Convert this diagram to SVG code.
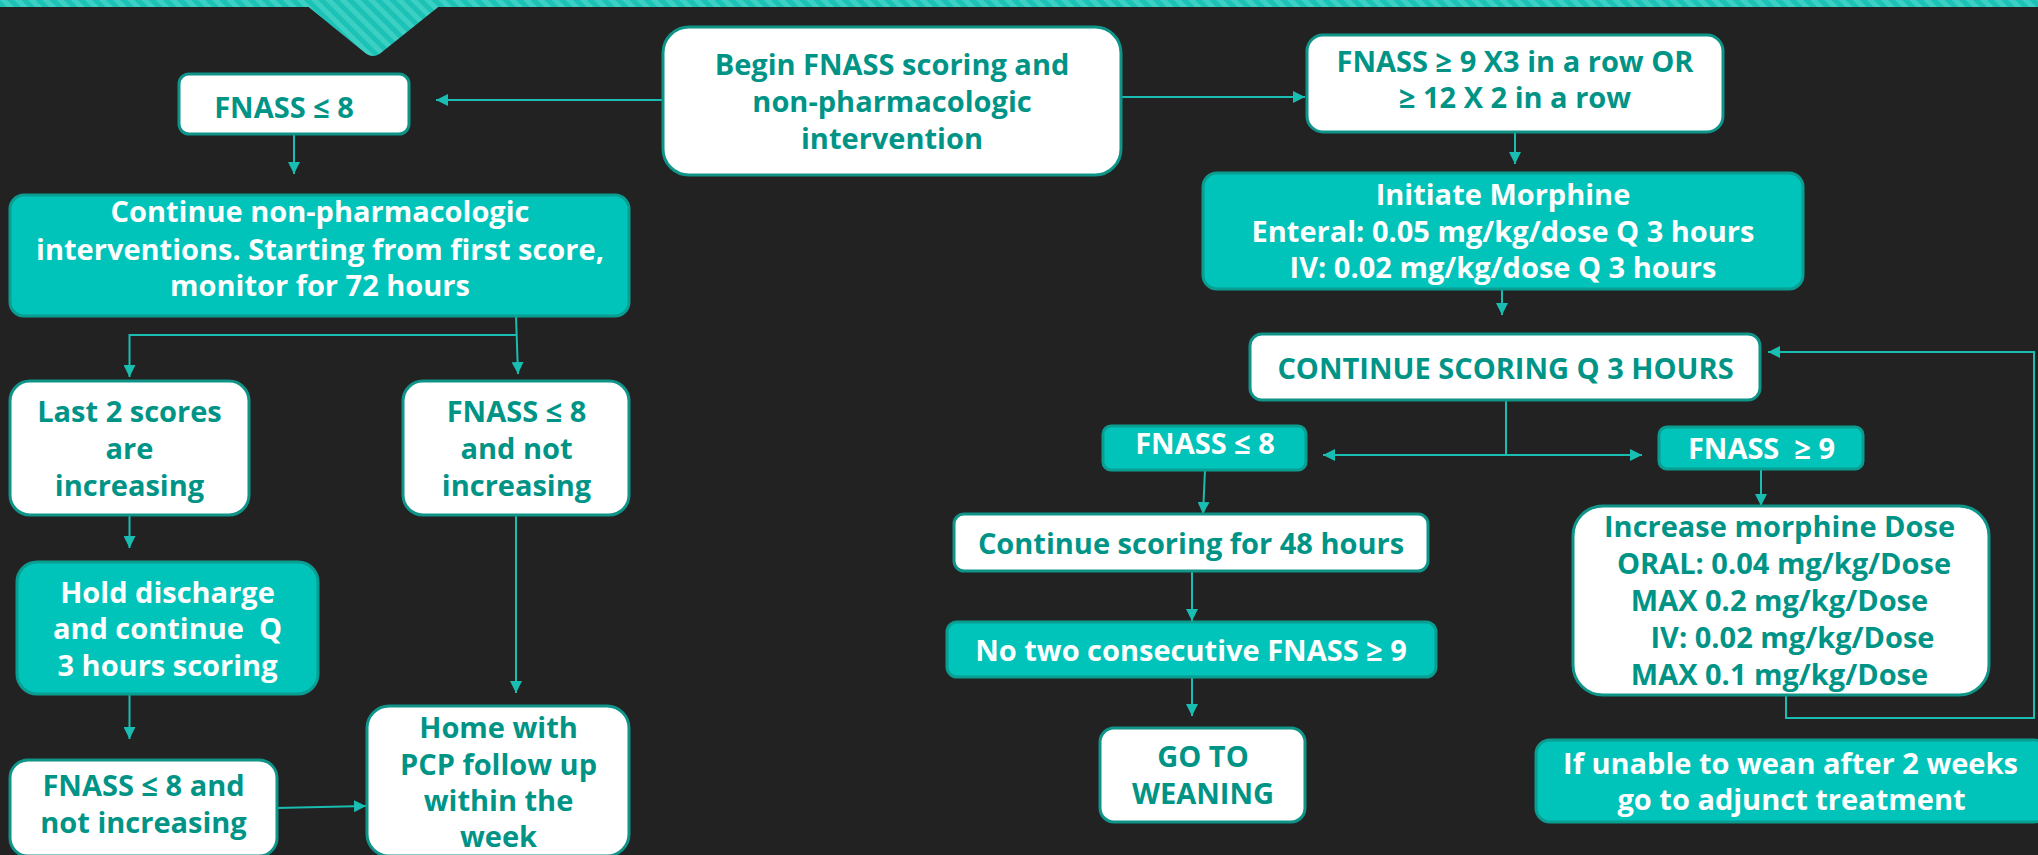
<svg xmlns="http://www.w3.org/2000/svg" width="2038" height="855" viewBox="0 0 2038 855">
<style>
.wb{fill:#ffffff;stroke:#0E9488;stroke-width:3}
.tb{fill:#00C4BA;stroke:#0A9E92;stroke-width:3}
text{font-family:"Open Sans","DejaVu Sans",sans-serif;font-weight:700;font-size:29px;text-anchor:middle}
.wt{fill:#009487}
.tt{fill:#ffffff}
.c{fill:none;stroke:#19BDB1;stroke-width:2}
</style>
<defs>
<pattern id="stripes" width="10" height="10" patternUnits="userSpaceOnUse" patternTransform="rotate(-45)">
<rect width="10" height="10" fill="#1CC2B5"/>
<rect width="5" height="10" fill="#3CCFC3"/>
</pattern>
<marker id="ah" viewBox="0 0 12 12" refX="12" refY="6" markerWidth="12" markerHeight="12" markerUnits="userSpaceOnUse" orient="auto-start-reverse">
<path d="M0,0 L12,6 L0,12 z" fill="#19BDB1"/>
</marker>
</defs>
<rect width="2038" height="855" fill="#222222"/>
<rect x="0" y="0" width="2038" height="7" fill="url(#stripes)"/>
<path d="M300,0 L447,0 L382,52 Q373,60 364,52 Z" fill="url(#stripes)"/>

<g id="connectors">
<line class="c" x1="663" y1="100" x2="436" y2="100" marker-end="url(#ah)"/>
<line class="c" x1="1122" y1="97" x2="1305" y2="97" marker-end="url(#ah)"/>
<line class="c" x1="294" y1="134" x2="294" y2="174" marker-end="url(#ah)"/>
<line class="c" x1="516" y1="316" x2="518" y2="374" marker-end="url(#ah)"/>
<polyline class="c" points="516,335 129.5,335 129.5,377" marker-end="url(#ah)"/>
<line class="c" x1="129.5" y1="515" x2="129.5" y2="548" marker-end="url(#ah)"/>
<line class="c" x1="129.5" y1="694" x2="129.5" y2="739" marker-end="url(#ah)"/>
<line class="c" x1="276" y1="808" x2="366" y2="806" marker-end="url(#ah)"/>
<line class="c" x1="516" y1="515" x2="516" y2="693" marker-end="url(#ah)"/>
<line class="c" x1="1515" y1="132" x2="1515" y2="164" marker-end="url(#ah)"/>
<line class="c" x1="1502" y1="289" x2="1502" y2="315" marker-end="url(#ah)"/>
<line class="c" x1="1506" y1="400" x2="1506" y2="455"/>
<line class="c" x1="1323" y1="455" x2="1642" y2="455" marker-start="url(#ah)" marker-end="url(#ah)"/>
<line class="c" x1="1205" y1="470" x2="1203" y2="514" marker-end="url(#ah)"/>
<line class="c" x1="1192" y1="571" x2="1192" y2="621" marker-end="url(#ah)"/>
<line class="c" x1="1192" y1="677" x2="1192" y2="716" marker-end="url(#ah)"/>
<line class="c" x1="1761" y1="469" x2="1761" y2="506" marker-end="url(#ah)"/>
<polyline class="c" points="1786,695 1786,718 2034,718 2034,352 1768,352" marker-end="url(#ah)"/>
</g>

<g id="begin">
<rect class="wb" x="663" y="27" width="458" height="148" rx="26"/>
<text class="wt" x="892" y="75">Begin FNASS scoring and</text>
<text class="wt" x="892" y="112">non-pharmacologic</text>
<text class="wt" x="892" y="149">intervention</text>
</g>

<g id="fnass-le8-left">
<rect class="wb" x="179" y="74" width="230" height="60" rx="10"/>
<text class="wt" x="284" y="118">FNASS ≤ 8</text>
</g>

<g id="continue-nonpharm">
<rect class="tb" x="10" y="195" width="619" height="121" rx="14"/>
<text class="tt" x="320" y="222">Continue non-pharmacologic</text>
<text class="tt" x="320" y="260">interventions. Starting from first score,</text>
<text class="tt" x="320" y="296">monitor for 72 hours</text>
</g>

<g id="last2">
<rect class="wb" x="10" y="381" width="239" height="134" rx="20"/>
<text class="wt" x="129.5" y="422">Last 2 scores</text>
<text class="wt" x="129.5" y="459">are</text>
<text class="wt" x="129.5" y="496">increasing</text>
</g>

<g id="fnass-le8-notinc">
<rect class="wb" x="403" y="381" width="226" height="134" rx="20"/>
<text class="wt" x="516.5" y="422">FNASS ≤ 8</text>
<text class="wt" x="516.5" y="459">and not</text>
<text class="wt" x="516.5" y="496">increasing</text>
</g>

<g id="hold">
<rect class="tb" x="17" y="562" width="301" height="132" rx="20"/>
<text class="tt" x="167.5" y="603">Hold discharge</text>
<text class="tt" x="167.5" y="639" xml:space="preserve">and continue  Q</text>
<text class="tt" x="167.5" y="676">3 hours scoring</text>
</g>

<g id="fnass-le8-bottom">
<rect class="wb" x="10" y="760" width="267" height="96" rx="18"/>
<text class="wt" x="143.5" y="796">FNASS ≤ 8 and</text>
<text class="wt" x="143.5" y="833">not increasing</text>
</g>

<g id="home">
<rect class="wb" x="367" y="706" width="262" height="150" rx="22"/>
<text class="wt" x="498.5" y="738">Home with</text>
<text class="wt" x="498.5" y="775">PCP follow up</text>
<text class="wt" x="498.5" y="811">within the</text>
<text class="wt" x="498.5" y="847">week</text>
</g>

<g id="fnass-ge9-x3">
<rect class="wb" x="1307" y="35" width="416" height="97" rx="16"/>
<text class="wt" x="1515" y="72">FNASS ≥ 9 X3 in a row OR</text>
<text class="wt" x="1515" y="108">≥ 12 X 2 in a row</text>
</g>

<g id="initiate">
<rect class="tb" x="1203" y="173" width="600" height="116" rx="14"/>
<text class="tt" x="1503" y="205">Initiate Morphine</text>
<text class="tt" x="1503" y="242">Enteral: 0.05 mg/kg/dose Q 3 hours</text>
<text class="tt" x="1503" y="278">IV: 0.02 mg/kg/dose Q 3 hours</text>
</g>

<g id="continue-q3">
<rect class="wb" x="1250" y="334" width="510" height="66" rx="12"/>
<text class="wt" x="1505.5" y="379">CONTINUE SCORING Q 3 HOURS</text>
</g>

<g id="fnass-le8-right">
<rect class="tb" x="1103" y="426" width="203" height="44" rx="8"/>
<text class="tt" x="1205" y="454">FNASS ≤ 8</text>
</g>

<g id="fnass-ge9-right">
<rect class="tb" x="1659" y="427" width="204" height="42" rx="8"/>
<text class="tt" x="1761.5" y="459" xml:space="preserve">FNASS  ≥ 9</text>
</g>

<g id="continue48">
<rect class="wb" x="954" y="514" width="474" height="57" rx="10"/>
<text class="wt" x="1191" y="554">Continue scoring for 48 hours</text>
</g>

<g id="notwo">
<rect class="tb" x="947" y="622" width="489" height="55" rx="10"/>
<text class="tt" x="1191" y="661">No two consecutive FNASS ≥ 9</text>
</g>

<g id="weaning">
<rect class="wb" x="1100" y="728" width="205" height="94" rx="14"/>
<text class="wt" x="1203" y="767">GO TO</text>
<text class="wt" x="1203" y="804">WEANING</text>
</g>

<g id="increase">
<rect class="wb" x="1573" y="506" width="416" height="189" rx="30"/>
<text class="wt" x="1779.5" y="537">Increase morphine Dose</text>
<text class="wt" x="1784" y="574">ORAL: 0.04 mg/kg/Dose</text>
<text class="wt" x="1779.5" y="611">MAX 0.2 mg/kg/Dose</text>
<text class="wt" x="1792.5" y="648">IV: 0.02 mg/kg/Dose</text>
<text class="wt" x="1779.5" y="685">MAX 0.1 mg/kg/Dose</text>
</g>

<g id="adjunct">
<rect class="tb" x="1536" y="740" width="512" height="82" rx="14"/>
<text class="tt" x="1790.5" y="774">If unable to wean after 2 weeks</text>
<text class="tt" x="1791.5" y="810">go to adjunct treatment</text>
</g>
</svg>
